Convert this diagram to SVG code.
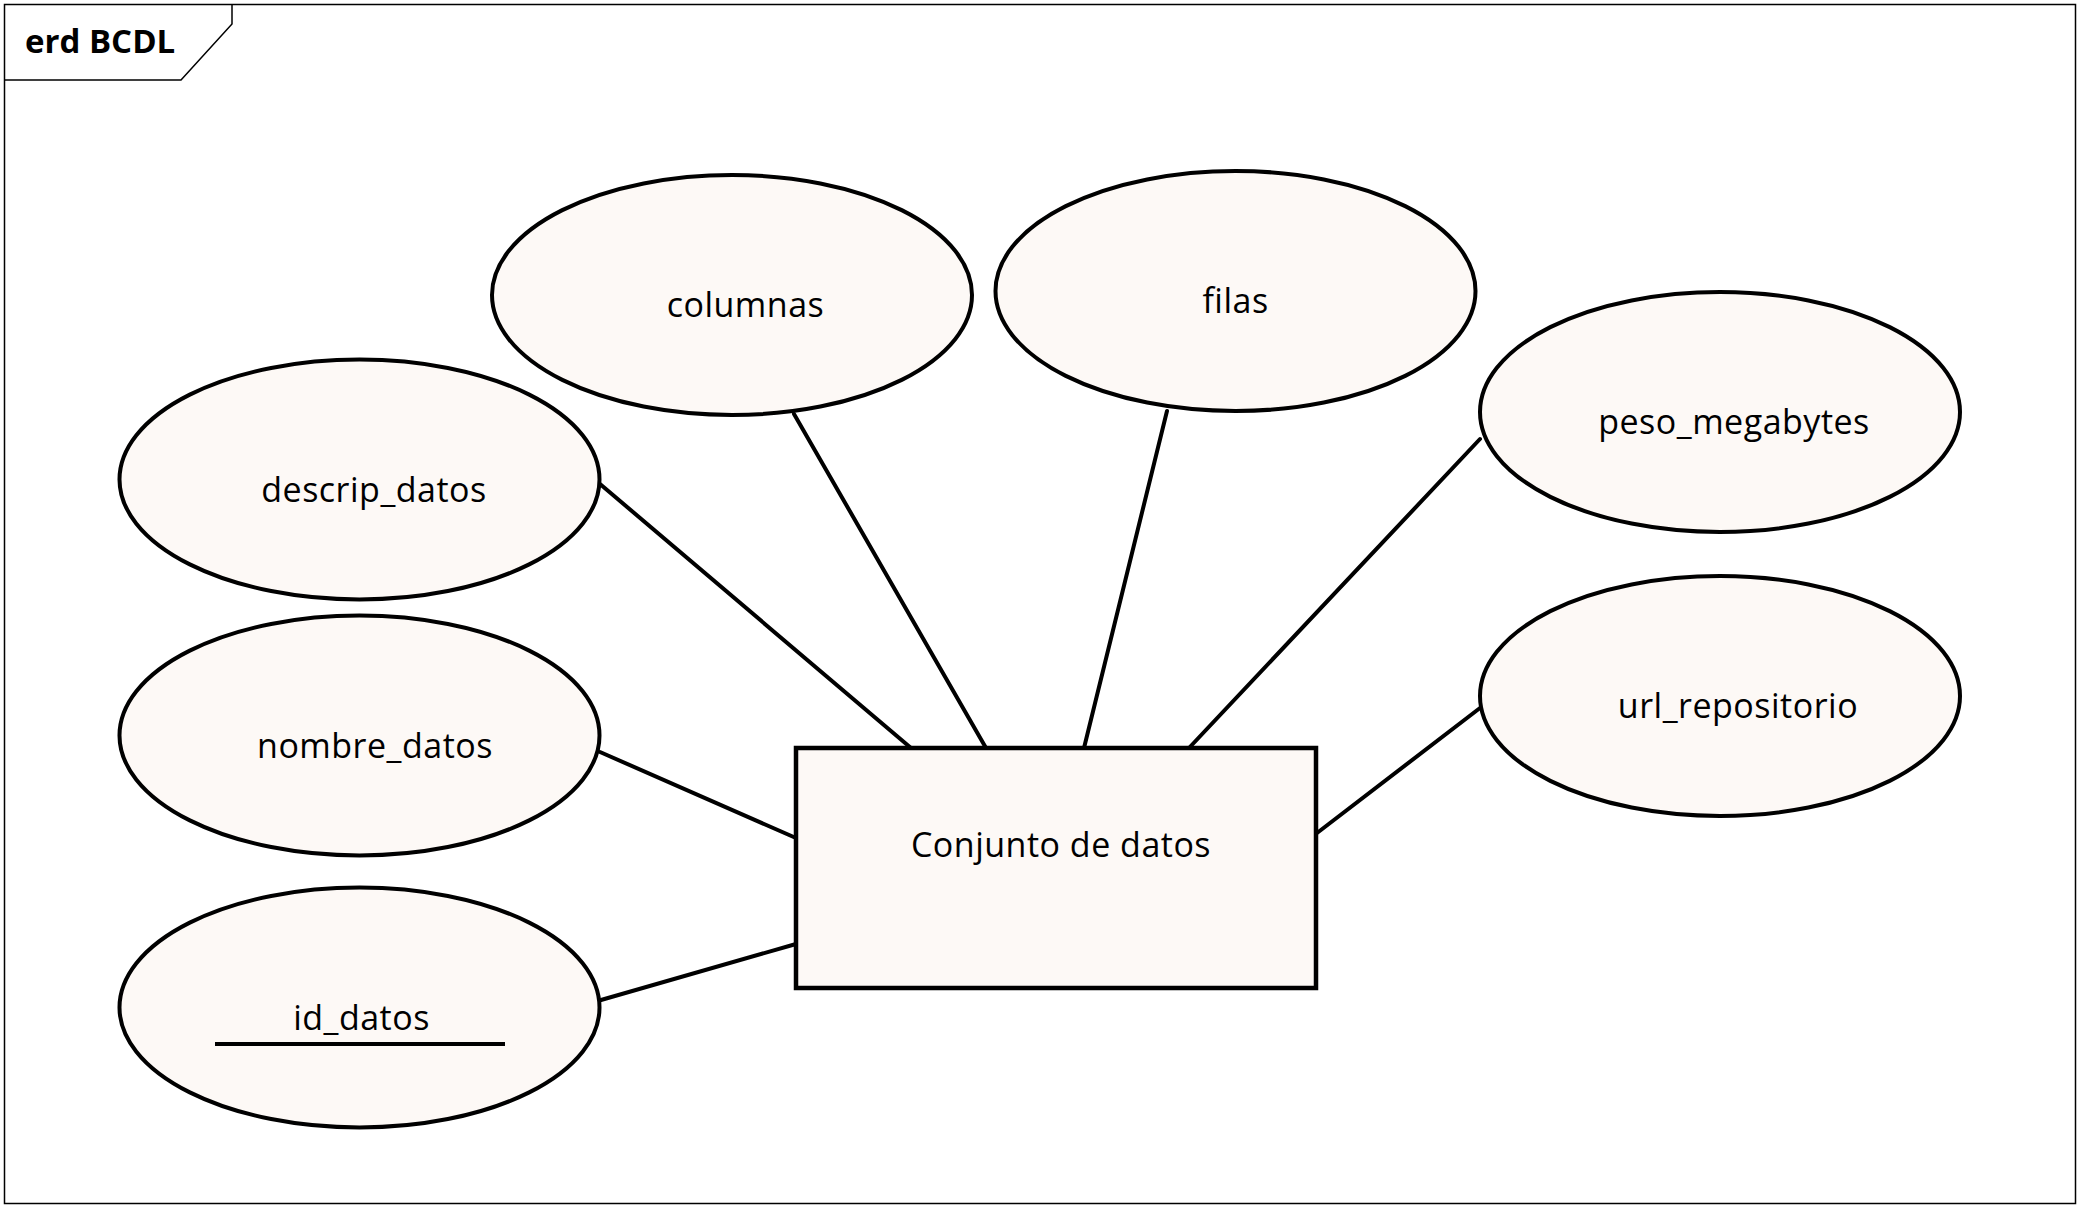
<svg xmlns="http://www.w3.org/2000/svg" width="2080" height="1208" viewBox="0 0 2080 1208">
<style>
.frame{fill:none;stroke:#000;stroke-width:1.5}
.attr{fill:#FDF9F6;stroke:#000;stroke-width:4}
.ent{fill:#FDF9F6;stroke:#000;stroke-width:4.5}
.lbl{font-family:"Open Sans","Noto Sans",sans-serif;font-size:34px;letter-spacing:0.5px;fill:#000;text-anchor:middle}
.title{font-family:"Open Sans","Noto Sans",sans-serif;font-size:33px;font-weight:bold;fill:#000}
.conn line{stroke:#000;stroke-width:4;stroke-linecap:round}
</style>
<rect width="2080" height="1208" fill="#fff"/>
<g id="frame">
<rect class="frame" x="4.5" y="4.5" width="2071" height="1199"/>
<path class="frame" d="M4.5,80 H181 L232,24 V4.5"/>
<text class="title" x="25" y="53">erd BCDL</text>
</g>
<g id="connectors" class="conn">
<line x1="600" y1="484" x2="911" y2="748"/>
<line x1="794" y1="414" x2="986" y2="748"/>
<line x1="1167" y1="411" x2="1084" y2="748"/>
<line x1="1480" y1="439" x2="1189" y2="748"/>
<line x1="1480" y1="708" x2="1317" y2="833"/>
<line x1="600" y1="752" x2="796" y2="838"/>
<line x1="601" y1="1000" x2="796" y2="944"/>
</g>
<g id="columnas">
<ellipse class="attr" cx="732" cy="295" rx="240" ry="120"/>
<text class="lbl" x="745.5" y="317">columnas</text>
</g>
<g id="filas">
<ellipse class="attr" cx="1235.5" cy="291" rx="240" ry="120"/>
<text class="lbl" x="1235.5" y="313">filas</text>
</g>
<g id="peso_megabytes">
<ellipse class="attr" cx="1720" cy="412" rx="240" ry="120"/>
<text class="lbl" x="1734" y="434">peso_megabytes</text>
</g>
<g id="url_repositorio">
<ellipse class="attr" cx="1720" cy="696" rx="240" ry="120"/>
<text class="lbl" x="1738" y="718">url_repositorio</text>
</g>
<g id="descrip_datos">
<ellipse class="attr" cx="359.5" cy="479.5" rx="240" ry="120"/>
<text class="lbl" x="374" y="501.5">descrip_datos</text>
</g>
<g id="nombre_datos">
<ellipse class="attr" cx="359.5" cy="735.5" rx="240" ry="120"/>
<text class="lbl" x="375" y="757.5">nombre_datos</text>
</g>
<g id="id_datos">
<ellipse class="attr" cx="359.5" cy="1007.5" rx="240" ry="120"/>
<text class="lbl" x="361.5" y="1030">id_datos</text>
<line x1="215" y1="1044" x2="505" y2="1044" stroke="#000" stroke-width="4"/>
</g>
<g id="conjunto_de_datos">
<rect class="ent" x="796" y="748" width="520" height="240"/>
<text class="lbl" x="1061" y="857">Conjunto de datos</text>
</g>
</svg>
